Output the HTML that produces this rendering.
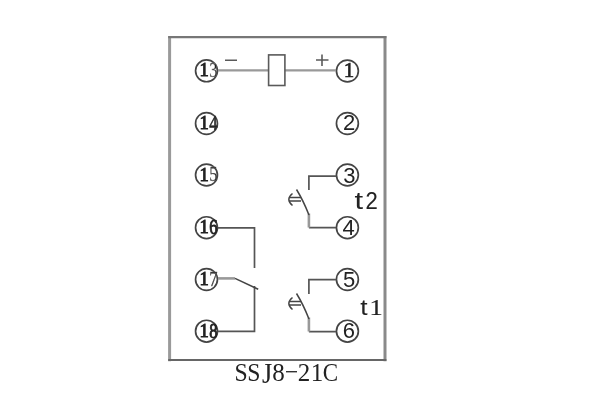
<!DOCTYPE html>
<html><head><meta charset="utf-8">
<style>
html,body{margin:0;padding:0;background:#fff;width:600px;height:400px;overflow:hidden}
svg{position:absolute;left:0;top:0;will-change:transform;filter:blur(0.35px)}
text{fill:#222}
.sf{font-family:"Liberation Serif",serif}
.ss{font-family:"Liberation Sans",sans-serif}
</style></head><body>
<svg width="600" height="400" viewBox="0 0 600 400">
<g fill="none">
<path d="M169.6 36V361.2" stroke="#9a9a9a" stroke-width="3"/>
<path d="M385 36V361.2" stroke="#8a8a8a" stroke-width="3"/>
<path d="M168.2 37.1H386.4" stroke="#777" stroke-width="2.2"/>
<path d="M168.2 359.9H386.4" stroke="#666" stroke-width="2"/>
</g>
<g fill="none" stroke="#444" stroke-width="1.7">
<circle cx="206.5" cy="70.8" r="10.95"/>
<circle cx="206.5" cy="123.5" r="10.95"/>
<circle cx="206.5" cy="175" r="10.95"/>
<circle cx="206.5" cy="227.7" r="10.95"/>
<circle cx="206.5" cy="279.5" r="10.95"/>
<circle cx="206.5" cy="331.2" r="10.95"/>
<circle cx="347.4" cy="71" r="10.95"/>
<circle cx="347.4" cy="123.5" r="10.95"/>
<circle cx="347.4" cy="175" r="10.95"/>
<circle cx="347.4" cy="227.7" r="10.95"/>
<circle cx="347.4" cy="279.5" r="10.95"/>
<circle cx="347.4" cy="331.2" r="10.95"/>
</g>
<g fill="none" stroke="#999" stroke-width="2.4">
<path d="M218 70.4H268.5M285 70.4H336"/>
</g>
<g fill="none" stroke="#5a5a5a" stroke-width="1.6">
<rect x="268.6" y="54.9" width="16.3" height="30.6"/>
<path d="M225 60.3H237M316 60H328.5M322 54.5V66"/>
</g>
<g fill="none" stroke="#555" stroke-width="1.7">
<path d="M336.4 176.2H308.9V190"/>
<path d="M336.4 279.6H308.9V294"/>
<path d="M308.9 227.6H336M308.9 331.6H336"/>
<path d="M218 227.9H254.5V268"/>
<path d="M254.5 286V331.3H218"/>
</g>
<g fill="none" stroke="#999" stroke-width="2.6">
<path d="M308.9 213.5V227.6M308.9 317.5V331.6"/>
<path d="M218 278.4H235"/>
</g>
<g fill="none" stroke="#444" stroke-width="1.5">
<path d="M296.5 189.5Q303 200 309 215"/>
<path d="M289 197.5H301M289 201H301M292.5 193.5Q285.2 199.3 292.5 205.5"/>
<path d="M296.5 293.5Q303 304 309 319"/>
<path d="M289 301.5H301M289 305H301M292.5 297.5Q285.2 303.3 292.5 309.5"/>
<path d="M235 278.4L258.2 289.3"/>
</g>
<g class="sf" font-size="19.5" font-weight="bold">
<text transform="translate(199.5 76.3) scale(0.95 1)" font-weight="normal" stroke="#222" stroke-width="0.9">1</text><text transform="translate(209.2 76.5) scale(0.85 1.1)" font-weight="normal" fill="#999" stroke="#999" stroke-width="0.3">3</text>
<text transform="translate(199.5 129.3) scale(0.95 1)" font-weight="normal" stroke="#222" stroke-width="0.9">1</text><text transform="translate(209.2 129.5) scale(0.85 1.1)" font-weight="normal" fill="#333" stroke="#333" stroke-width="0.6">4</text>
<text transform="translate(199.5 180.8) scale(0.95 1)" font-weight="normal" stroke="#222" stroke-width="0.9">1</text><text transform="translate(209.2 181.0) scale(0.85 1.1)" font-weight="normal" fill="#888" stroke="#888" stroke-width="0.3">5</text>
<text transform="translate(199.5 233.3) scale(0.95 1)" font-weight="normal" stroke="#222" stroke-width="0.9">1</text><text transform="translate(209.2 233.5) scale(0.85 1.1)" font-weight="normal" fill="#222" stroke="#222" stroke-width="0.8">6</text>
<text transform="translate(199.5 285.3) scale(0.95 1)" font-weight="normal" stroke="#222" stroke-width="0.9">1</text><text transform="translate(209.2 285.5) scale(0.85 1.1)" font-weight="normal" fill="#777" stroke="#777" stroke-width="0.4">7</text>
<text transform="translate(199.5 337.3) scale(0.95 1)" font-weight="normal" stroke="#222" stroke-width="0.9">1</text><text transform="translate(209.2 337.5) scale(0.85 1.1)" font-weight="normal" fill="#222" stroke="#222" stroke-width="0.8">8</text>
<text x="343.8" y="77.3" font-size="21" font-weight="normal" stroke="#222" stroke-width="0.7">1</text>
</g>
<g class="ss" font-size="22">
<text x="343" y="130">2</text>
<text x="343.2" y="182.5">3</text>
<text x="342.5" y="235">4</text>
<text x="343" y="286.5">5</text>
<text x="342.8" y="338">6</text>
</g>
<text class="ss" transform="translate(354.6 209.4) scale(1.35 1)" font-size="23" stroke="#222" stroke-width="0">t</text>
<text class="ss" transform="translate(365.5 209.4) scale(0.92 1)" font-size="24" stroke="#222" stroke-width="0.1">2</text>
<text class="ss" transform="translate(360.2 314.6) scale(1.2 1)" font-size="22" stroke="#222" stroke-width="0">t</text>
<text class="sf" transform="translate(369.6 314.6) scale(1.1 1)" font-size="24" stroke="#222" stroke-width="0.25">1</text>
<g class="sf" font-size="25" text-anchor="middle">
<text transform="translate(241.2 380.5) scale(0.95 1)">S</text><text transform="translate(253.8 380.5) scale(0.95 1)">S</text><text transform="translate(267 364) scale(1.05 1.14)" y="16.5">J</text><text x="278.5" y="380.5">8</text><text x="304" y="380.5">2</text><text x="317" y="380.5">1</text><text transform="translate(330.4 380.5) scale(0.92 1)">C</text>
</g>
<path d="M286 371.7H297" stroke="#333" stroke-width="1.4"/>
</svg>
</body></html>
